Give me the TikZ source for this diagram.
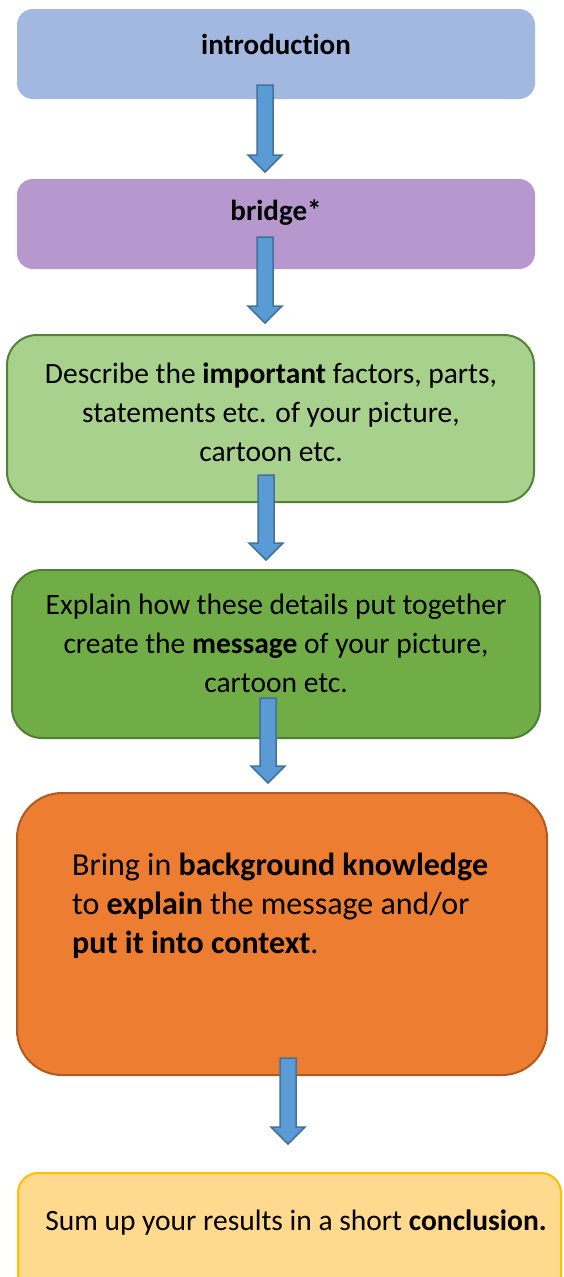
\documentclass[tikz,border=0pt]{standalone}
\usepackage{fontspec}
\setmainfont{Carlito}[Ligatures=NoCommon]
\usetikzlibrary{calc}

\definecolor{introblue}{HTML}{A2B8E0}
\definecolor{bridgepurple}{HTML}{B697CE}
\definecolor{lightgreen}{HTML}{A9D18E}
\definecolor{lightgreenline}{HTML}{548235}
\definecolor{darkgreen}{HTML}{70AD47}
\definecolor{darkgreenline}{HTML}{507E32}
\definecolor{orangebox}{HTML}{ED7D31}
\definecolor{orangeline}{HTML}{AE5A21}
\definecolor{yellowbox}{HTML}{FFD98E}
\definecolor{yellowline}{HTML}{FFC000}
\definecolor{arrowblue}{HTML}{5B9BD5}
\definecolor{arrowline}{HTML}{41719C}

\begin{document}
\begin{tikzpicture}[x=1pt,y=-1pt,
  box/.style={rectangle, rounded corners=#1, inner sep=0pt, line width=2pt},
  txt/.style={font=\fontsize{29.5}{39}\selectfont, align=center, inner sep=0pt},
  blockarrow/.style={fill=arrowblue, draw=arrowline, line width=1.5pt,
    to path={let \p1=(\tikztostart), \p2=(\tikztotarget) in
      (\x1-8pt,\y1) -- (\x1+8pt,\y1) -- (\x1+8pt,\y2+17pt) -- (\x1+17pt,\y2+17pt)
      -- (\x1,\y2) -- (\x1-17pt,\y2+17pt) -- (\x1-8pt,\y2+17pt) -- cycle}}]
\clip (0,0) rectangle (563,1277);
\fill[white] (0,0) rectangle (563,1277);
% boxes
\node[box=15pt, fill=introblue, draw=introblue, minimum width=516pt, minimum height=88pt] (intro) at (276,54) {};
\node[box=15pt, fill=bridgepurple, draw=bridgepurple, minimum width=516pt, minimum height=88pt] (bridge) at (276,224) {};
\node[box=30pt, fill=lightgreen, draw=lightgreenline, minimum width=527pt, minimum height=167pt] (describe) at (270.5,418.5) {};
\node[box=30pt, fill=darkgreen, draw=darkgreenline, minimum width=528pt, minimum height=168pt] (explain) at (276,654) {};
\node[box=45pt, fill=orangebox, draw=orangeline, minimum width=530pt, minimum height=282pt] (background) at (282,934) {};
\node[box=20pt, fill=yellowbox, draw=yellowline, minimum width=543pt, minimum height=160pt] (conclusion) at (289.5,1253) {};
% texts
\node[txt, font=\fontsize{29}{39}\selectfont\bfseries] (introtext) at (276,44) {introduction};
\node[txt, font=\fontsize{29}{39}\selectfont\bfseries] (bridgetext) at (276,213) {bridge*};
\node[txt] (describetext) at (271,412) {Describe the \textbf{important} factors, parts,\\ statements etc. of your picture,\\ cartoon etc.};
\node[txt] (explaintext) at (276,643) {Explain how these details put together\\ create the \textbf{message} of your picture,\\ cartoon etc.};
\node[txt, align=left, anchor=west, font=\fontsize{32}{39}\selectfont] (backgroundtext) at (72,906) {Bring in \textbf{background knowledge}\\ to \textbf{explain} the message and/or\\ \textbf{put it into context}.};
\node[txt] (conclusiontext) at (296,1223) {Sum up your results in a short \textbf{conclusion.}};
% arrows
\coordinate (a1top) at (265,85);   \coordinate (a1tip) at (265,172);
\coordinate (a2top) at (265,237);  \coordinate (a2tip) at (265,323);
\coordinate (a3top) at (266,475);  \coordinate (a3tip) at (266,560);
\coordinate (a4top) at (268,698);  \coordinate (a4tip) at (268,783);
\coordinate (a5top) at (288,1058); \coordinate (a5tip) at (288,1144);
\draw[blockarrow] (a1top) to (a1tip);
\draw[blockarrow] (a2top) to (a2tip);
\draw[blockarrow] (a3top) to (a3tip);
\draw[blockarrow] (a4top) to (a4tip);
\draw[blockarrow] (a5top) to (a5tip);
\end{tikzpicture}
\end{document}
